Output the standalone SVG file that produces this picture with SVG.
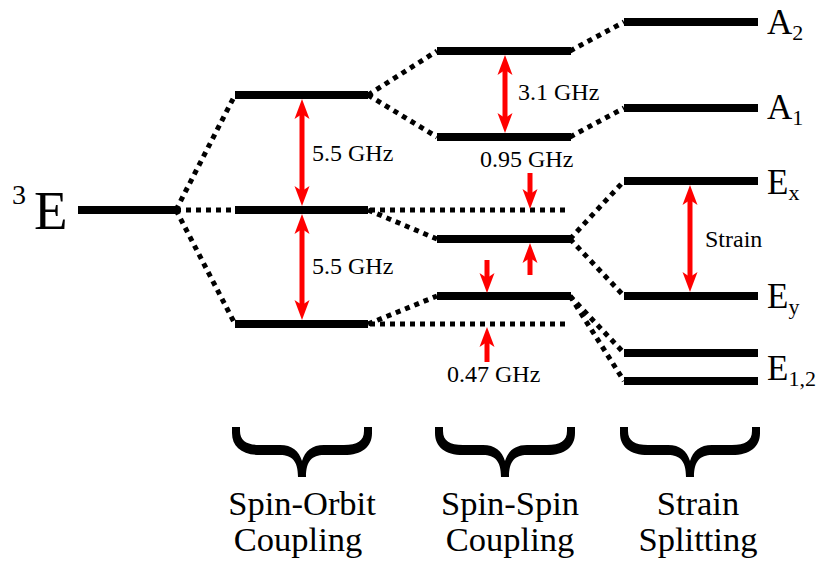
<svg xmlns="http://www.w3.org/2000/svg" width="820" height="561" viewBox="0 0 820 561">
  <style>
    .lvl { stroke: #000; stroke-width: 8; fill: none; }
    .dot { stroke: #000; stroke-width: 5; stroke-dasharray: 5 5; fill: none; }
    .red { stroke: #f00; stroke-width: 5; fill: none; }
    .dbl { marker-start: url(#head); marker-end: url(#head); }
    .one { marker-end: url(#head); }
  </style>
  <defs>
    <marker id="head" markerUnits="userSpaceOnUse" viewBox="-6 -8 22 16" refX="0" refY="0" markerWidth="22" markerHeight="16" orient="auto-start-reverse">
      <path d="M15,0 L-5,-7.5 L0,0 L-5,7.5 Z" fill="#f00"/>
    </marker>
    <path id="brace" d="M -70,0 H -62 V 4 C -62,14 -55,18 -42,18 H -22 C -10,18 -3,24 0,34 C 3,24 10,18 22,18 H 42 C 55,18 62,14 62,4 V 0 H 70 V 6 C 70,20 60,28 42,28 H 22 C 10,28 4,34 4,50 H -4 C -4,34 -10,28 -22,28 H -42 C -60,28 -70,20 -70,6 Z" fill="#000"/>
  </defs>

  <rect width="820" height="561" fill="#fff"/>

  <!-- dotted connectors between levels -->
  <g id="connectors">
    <line class="dot" x1="176" y1="210" x2="235" y2="95"/>
    <line class="dot" x1="176" y1="210" x2="235" y2="210"/>
    <line class="dot" x1="176" y1="210" x2="235" y2="324"/>
    <line class="dot" x1="368" y1="95" x2="437" y2="51"/>
    <line class="dot" x1="368" y1="95" x2="437" y2="137"/>
    <line class="dot" x1="370" y1="210" x2="566" y2="210"/>
    <line class="dot" x1="368" y1="210" x2="437" y2="239"/>
    <line class="dot" x1="368" y1="324" x2="437" y2="296"/>
    <line class="dot" x1="370" y1="324" x2="566" y2="324"/>
    <line class="dot" x1="570" y1="51" x2="624" y2="22"/>
    <line class="dot" x1="570" y1="137" x2="624" y2="108"/>
    <line class="dot" x1="570" y1="239" x2="624" y2="181"/>
    <line class="dot" x1="570" y1="239" x2="624" y2="296"/>
    <line class="dot" x1="570" y1="296" x2="624" y2="353"/>
    <line class="dot" x1="570" y1="296" x2="624" y2="381"/>
  </g>

  <g font-family="'Liberation Serif', 'Times New Roman', serif" fill="#000">
    <!-- unperturbed 3E level -->
    <g id="level-3E">
      <line class="lvl" x1="78" y1="210" x2="177" y2="210"/>
      <text x="12" y="204" font-size="28">3</text>
      <text x="34" y="229" font-size="55">E</text>
    </g>

    <!-- spin-orbit levels -->
    <g id="so-upper"><line class="lvl" x1="235" y1="95" x2="368" y2="95"/></g>
    <g id="so-middle"><line class="lvl" x1="235" y1="210" x2="368" y2="210"/></g>
    <g id="so-lower"><line class="lvl" x1="235" y1="324" x2="368" y2="324"/></g>

    <!-- spin-spin levels -->
    <g id="ss-1"><line class="lvl" x1="437" y1="51" x2="571" y2="51"/></g>
    <g id="ss-2"><line class="lvl" x1="437" y1="137" x2="571" y2="137"/></g>
    <g id="ss-3"><line class="lvl" x1="437" y1="239" x2="571" y2="239"/></g>
    <g id="ss-4"><line class="lvl" x1="437" y1="296" x2="571" y2="296"/></g>

    <!-- strain-split levels with labels -->
    <g id="A2">
      <line class="lvl" x1="624" y1="22" x2="758" y2="22"/>
      <text x="767" y="34" font-size="35">A<tspan font-size="22" dy="6">2</tspan></text>
    </g>
    <g id="A1">
      <line class="lvl" x1="624" y1="108" x2="758" y2="108"/>
      <text x="767" y="119" font-size="35">A<tspan font-size="22" dy="6">1</tspan></text>
    </g>
    <g id="Ex">
      <line class="lvl" x1="624" y1="181" x2="758" y2="181"/>
      <text x="767" y="194" font-size="35">E<tspan font-size="22" dy="6">x</tspan></text>
    </g>
    <g id="Ey">
      <line class="lvl" x1="624" y1="296" x2="758" y2="296"/>
      <text x="767" y="308" font-size="35">E<tspan font-size="22" dy="6">y</tspan></text>
    </g>
    <g id="E12">
      <line class="lvl" x1="624" y1="353" x2="758" y2="353"/>
      <line class="lvl" x1="624" y1="381" x2="758" y2="381"/>
      <text x="767" y="380" font-size="35">E<tspan font-size="22" dy="6">1,2</tspan></text>
    </g>

    <!-- splitting arrows -->
    <g id="splittings" font-size="24">
      <line class="red dbl" x1="302" y1="114" x2="302" y2="191"/>
      <text x="312" y="161">5.5 GHz</text>
      <line class="red dbl" x1="302" y1="229" x2="302" y2="305"/>
      <text x="312" y="274">5.5 GHz</text>
      <line class="red dbl" x1="505" y1="70" x2="505" y2="118"/>
      <text x="518" y="100">3.1 GHz</text>
      <text x="480" y="167">0.95 GHz</text>
      <line class="red one" x1="530" y1="173" x2="530" y2="194"/>
      <line class="red one" x1="530" y1="275" x2="530" y2="258"/>
      <line class="red one" x1="487" y1="260" x2="487" y2="278"/>
      <line class="red one" x1="487" y1="362" x2="487" y2="342"/>
      <text x="447" y="382">0.47 GHz</text>
      <line class="red dbl" x1="690" y1="200" x2="690" y2="277"/>
      <text x="705" y="247">Strain</text>
    </g>

    <!-- interaction braces and captions -->
    <g id="spin-orbit" font-size="34.5" text-anchor="middle">
      <use href="#brace" x="302" y="427"/>
      <text x="302" y="515">Spin-Orbit</text>
      <text x="298" y="551">Coupling</text>
    </g>
    <g id="spin-spin" font-size="34.5" text-anchor="middle">
      <use href="#brace" x="505" y="427"/>
      <text x="510" y="515">Spin-Spin</text>
      <text x="510" y="551">Coupling</text>
    </g>
    <g id="strain" font-size="34.5" text-anchor="middle">
      <use href="#brace" x="690" y="427"/>
      <text x="698" y="515">Strain</text>
      <text x="698" y="551">Splitting</text>
    </g>
  </g>
</svg>
